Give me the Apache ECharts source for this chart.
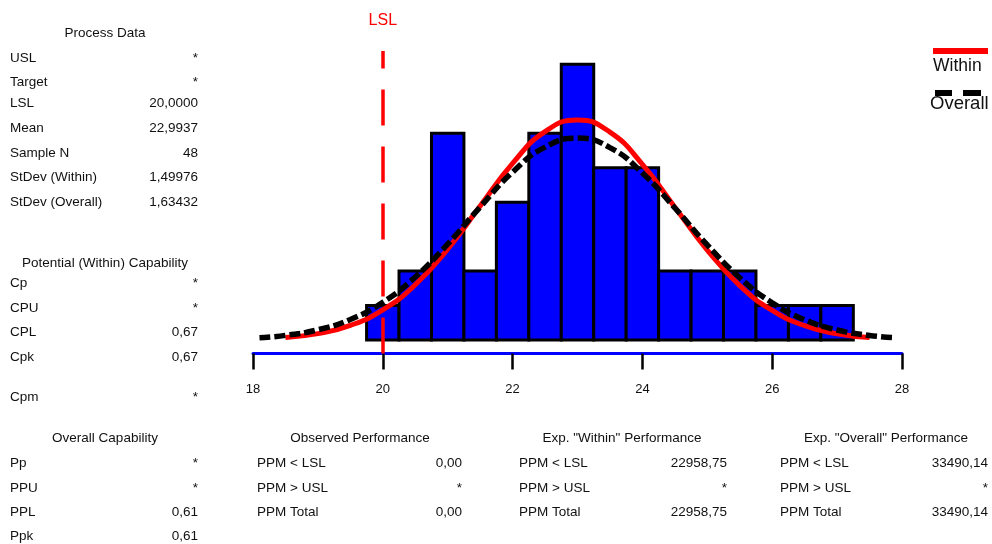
<!DOCTYPE html>
<html>
<head>
<meta charset="utf-8">
<script src="https://cdn.jsdelivr.net/npm/echarts@6/dist/echarts.min.js"></script>
<style>
  html, body { margin: 0; padding: 0; background: #ffffff; }
  #chart { width: 992px; height: 544px; }
</style>
</head>
<body>
<div id="chart"></div>
<script>
// Histogram bins (bin centers, counts per bin)
const binCenters = [20, 20.5, 21, 21.5, 22, 22.5, 23, 23.5, 24, 24.5, 25, 25.5, 26, 26.5, 27];
const binCounts  = [1, 2, 6, 2, 4, 6, 8, 5, 5, 2, 2, 2, 1, 1, 1];
const binWidth = 0.5;

// Lower specification limit
const lslValue = 20;

// Fitted normal curve, within-subgroup sigma (scaled to counts)
const withinX = [18.5, 19, 19.5, 20, 20.5, 21, 21.5, 22, 22.5, 23, 23.5, 24, 24.5, 25, 25.5, 26, 26.5, 27, 27.5];
const withinY = [0.072, 0.184, 0.423, 0.871, 1.603, 2.639, 3.888, 5.126, 6.047, 6.384, 6.031, 5.097, 3.855, 2.609, 1.580, 0.856, 0.415, 0.180, 0.070];

// Fitted normal curve, overall sigma (scaled to counts)
const overallX = [18.1, 18.5, 19, 19.5, 20, 20.5, 21, 21.5, 22, 22.5, 23, 23.5, 24, 24.5, 25, 25.5, 26, 26.5, 27, 27.5, 27.9];
const overallY = [0.066, 0.134, 0.296, 0.596, 1.094, 1.829, 2.784, 3.858, 4.870, 5.597, 5.859, 5.584, 4.847, 3.831, 2.758, 1.808, 1.079, 0.587, 0.290, 0.131, 0.065];

// Axis range and tick step
const xMin = 18, xMax = 28, xStep = 2;

// Summary tables
const processDataTitle = 'Process Data';
const processDataLabels = ['USL', 'Target', 'LSL', 'Mean', 'Sample N', 'StDev (Within)', 'StDev (Overall)'];
const processDataValues = ['*', '*', '20,0000', '22,9937', '48', '1,49976', '1,63432'];

const potentialTitle = 'Potential (Within) Capability';
const potentialLabels = ['Cp', 'CPU', 'CPL', 'Cpk', 'Cpm'];
const potentialValues = ['*', '*', '0,67', '0,67', '*'];

const overallCapTitle = 'Overall Capability';
const overallCapLabels = ['Pp', 'PPU', 'PPL', 'Ppk'];
const overallCapValues = ['*', '*', '0,61', '0,61'];

const observedTitle = 'Observed Performance';
const observedLabels = ['PPM < LSL', 'PPM > USL', 'PPM Total'];
const observedValues = ['0,00', '*', '0,00'];

const expWithinTitle = 'Exp. "Within" Performance';
const expWithinLabels = ['PPM < LSL', 'PPM > USL', 'PPM Total'];
const expWithinValues = ['22958,75', '*', '22958,75'];

const expOverallTitle = 'Exp. "Overall" Performance';
const expOverallLabels = ['PPM < LSL', 'PPM > USL', 'PPM Total'];
const expOverallValues = ['33490,14', '*', '33490,14'];

const legendNames = ['Within', 'Overall'];

// ---------------------------------------------------------------
const FONT = '"Liberation Sans", Arial, sans-serif';
const TEXT_COLOR = '#111111';

function txt(x, y, text, align, size, color) {
  return {
    type: 'text',
    x: x, y: y,
    silent: true,
    style: {
      text: text,
      fill: color || TEXT_COLOR,
      font: (size || 13.5) + 'px ' + FONT,
      align: align, verticalAlign: 'middle',
      textAlign: align, textVerticalAlign: 'middle'
    }
  };
}

// One summary block: centered title, labels on the left, values right-aligned
function block(title, labels, values, layout) {
  const out = [txt(layout.titleX, layout.titleY, title, 'center')];
  labels.forEach(function (lab, i) {
    out.push(txt(layout.labelX, layout.rowY[i], lab, 'left'));
    out.push(txt(layout.valueX, layout.rowY[i], values[i], 'right'));
  });
  return out;
}

const graphics = [].concat(
  block(processDataTitle, processDataLabels, processDataValues,
    { titleX: 105, titleY: 33, labelX: 10, valueX: 198, rowY: [58, 82, 103, 128, 153, 177, 202] }),
  block(potentialTitle, potentialLabels, potentialValues,
    { titleX: 105, titleY: 263, labelX: 10, valueX: 198, rowY: [283, 308, 332, 357, 397] }),
  block(overallCapTitle, overallCapLabels, overallCapValues,
    { titleX: 105, titleY: 438, labelX: 10, valueX: 198, rowY: [463, 488, 512, 536] }),
  block(observedTitle, observedLabels, observedValues,
    { titleX: 360, titleY: 438, labelX: 257, valueX: 462, rowY: [463, 488, 512] }),
  block(expWithinTitle, expWithinLabels, expWithinValues,
    { titleX: 622, titleY: 438, labelX: 519, valueX: 727, rowY: [463, 488, 512] }),
  block(expOverallTitle, expOverallLabels, expOverallValues,
    { titleX: 886, titleY: 438, labelX: 780, valueX: 988, rowY: [463, 488, 512] })
);

// Legend: red bar over "Within", two black dashes over "Overall"
graphics.push({ type: 'rect', silent: true, shape: { x: 933, y: 48, width: 55, height: 6 }, style: { fill: '#ff0000' } });
graphics.push(txt(933, 66, legendNames[0], 'left', 17.5, '#111111'));
graphics.push({ type: 'rect', silent: true, shape: { x: 935, y: 90, width: 17, height: 6 }, style: { fill: '#000000' } });
graphics.push({ type: 'rect', silent: true, shape: { x: 963, y: 90, width: 18, height: 6 }, style: { fill: '#000000' } });
graphics.push(txt(930, 104, legendNames[1], 'left', 18.5, '#111111'));

const histData = binCenters.map(function (c, i) { return [c, binCounts[i]]; });
const withinData = withinX.map(function (x, i) { return [x, withinY[i]]; });
const overallData = overallX.map(function (x, i) { return [x, overallY[i]]; });

const chart = echarts.init(document.getElementById('chart'), null, { renderer: 'canvas' });

chart.setOption({
  animation: false,
  backgroundColor: '#ffffff',
  grid: { left: 253, right: 90, top: 51, bottom: 190.5, containLabel: false },
  xAxis: {
    type: 'value',
    min: xMin, max: xMax, interval: xStep,
    axisLine: { show: true, onZero: false, lineStyle: { color: '#0000ff', width: 3 } },
    axisTick: { show: true, length: 16, lineStyle: { color: '#000000', width: 2.5 } },
    axisLabel: { color: TEXT_COLOR, fontSize: 13, fontFamily: FONT, margin: 29 },
    splitLine: { show: false }
  },
  yAxis: {
    type: 'value',
    min: -0.392, max: 8.387,
    show: false,
    splitLine: { show: false }
  },
  series: [
    {
      name: 'Histogram',
      type: 'custom',
      data: histData,
      encode: { x: 0, y: 1 },
      z: 2,
      renderItem: function (params, api) {
        const c = api.value(0), n = api.value(1);
        const p0 = api.coord([c - binWidth / 2, n]);
        const p1 = api.coord([c + binWidth / 2, 0]);
        return {
          type: 'rect',
          shape: { x: p0[0], y: p0[1], width: p1[0] - p0[0], height: p1[1] - p0[1] },
          style: { fill: '#0000ff', stroke: '#000000', lineWidth: 3 }
        };
      }
    },
    {
      name: 'Within',
      type: 'line',
      data: withinData,
      smooth: true,
      showSymbol: false,
      z: 4,
      lineStyle: { color: '#ff0000', width: 5 },
      markLine: {
        silent: true,
        symbol: ['none', 'none'],
        lineStyle: { color: '#ff0000', width: 3.5, type: [36, 21] },
        label: {
          show: true, position: 'end', formatter: 'LSL',
          color: '#ff0000', fontSize: 16, fontFamily: FONT, distance: 22
        },
        data: [{ xAxis: lslValue }]
      }
    },
    {
      name: 'Overall',
      type: 'line',
      data: overallData,
      smooth: true,
      showSymbol: false,
      z: 5,
      lineStyle: { color: '#000000', width: 5.5, type: [11, 4] }
    }
  ],
  graphic: graphics
});
</script>
</body>
</html>
